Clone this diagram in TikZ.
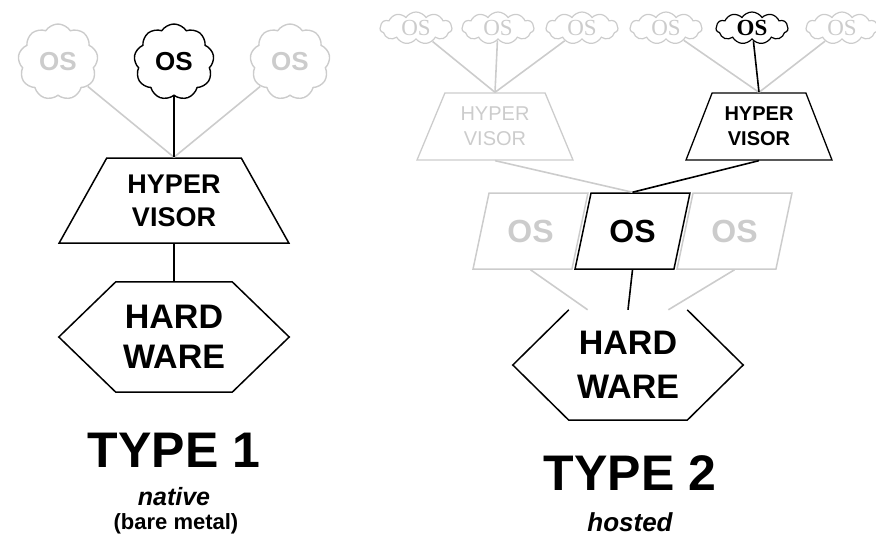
\documentclass[tikz,border=0pt]{standalone}
\usepackage{fontspec}
\setmainfont{Liberation Sans}
\newfontfamily\osserif{Liberation Serif}
\usepackage{tikz}
\usetikzlibrary{calc, shapes.geometric, shapes.symbols, positioning}

\begin{document}
\begin{tikzpicture}[x=1pt, y=-1pt,
    active/.style={draw=black, text=black},
    faded/.style={draw=black!20, text=black!20},
    edge/.style={line width=1.6pt},
    bigcloud/.style={cloud, cloud puffs=9, cloud puff arc=115, aspect=1, minimum width=80pt, minimum height=76pt, inner sep=0pt, line width=1.4pt, font=\fontsize{26}{28}\selectfont\bfseries},
    smallcloud/.style={cloud, cloud puffs=11, cloud puff arc=115, aspect=2.3, minimum width=72pt, minimum height=32pt, inner sep=0pt, line width=1.2pt, font=\fontsize{23}{25}\selectfont\osserif},
    hyper/.style={trapezium, trapezium stretches=true, trapezium angle=57.6, minimum width=230pt, minimum height=85pt, inner sep=0pt, line width=1.5pt, align=center, font=\fontsize{27}{33}\selectfont\bfseries},
    smallhyper/.style={trapezium, trapezium stretches=true, trapezium angle=63.8, minimum height=67pt, inner sep=0pt, line width=1.3pt, align=center, font=\fontsize{20}{25}\selectfont},
    osbox/.style={trapezium, trapezium stretches=true, trapezium left angle=68.5, trapezium right angle=111.5, minimum width=115pt, minimum height=76pt, inner sep=0pt, line width=1.5pt, font=\fontsize{32}{34}\selectfont\bfseries},
    hwbox/.style={minimum width=230pt, minimum height=110pt, inner sep=0pt, align=center},
    title/.style={font=\fontsize{50}{52}\selectfont\bfseries},
    note/.style={inner sep=0pt}
  ]
  \useasboundingbox (0,0) rectangle (876,536);

  % Type 1
  \node[bigcloud, faded] (os1a) at (58,62) {OS};
  \node[bigcloud, active] (os1b) at (174,62) {OS};
  \node[bigcloud, faded] (os1c) at (290,62) {OS};
  \node[hyper, active] (hyp1) at (174,200.5) {HYPER\\VISOR};
  \node[hwbox, font=\fontsize{34}{40}\selectfont\bfseries] (hw1) at (174,337) {HARD\\WARE};
  \draw[line width=1.5pt] ($(hw1.north west)+(57,0)$) -- ($(hw1.north east)+(-57,0)$) -- (hw1.east)
    -- ($(hw1.south east)+(-57,0)$) -- ($(hw1.south west)+(57,0)$) -- (hw1.west) -- cycle;
  \draw[edge, black!20] (os1a) -- (hyp1.north);
  \draw[edge, black!20] (os1c) -- (hyp1.north);
  \draw[edge] (os1b) -- (hyp1.north);
  \draw[edge] (hyp1) -- (hw1);
  \node[title] (type1) at (174,450) {TYPE 1};
  \node[note, font=\fontsize{25}{27}\selectfont\bfseries\itshape] (native) at (174,497) {native};
  \node[note, font=\fontsize{22}{24}\selectfont\bfseries] (bare) at (176,524) {(bare metal)};

  % Type 2
  \foreach \i/\x in {1/416, 2/498, 3/582, 4/666, 6/842}
    \node[smallcloud, faded] (ost\i) at (\x,28) {OS};
  \node[smallcloud, active, font=\fontsize{23}{25}\selectfont\osserif\bfseries] (ost5) at (752,28) {OS};
  \node[smallhyper, faded, minimum width=156pt] (hyp2a) at (495,126.5) {HYPER\\VISOR};
  \node[smallhyper, active, minimum width=146pt, font=\fontsize{20}{25}\selectfont\bfseries] (hyp2b) at (759,126.5) {HYPER\\VISOR};
  \foreach \n/\x in {l/530.5, r/734.5}
    \node[osbox, faded] (os2\n) at (\x,231) {OS};
  \node[osbox, active] (os2m) at (632.5,231) {OS};
  \node[hwbox, font=\fontsize{34}{44}\selectfont\bfseries] (hw2) at (628,365) {HARD\\WARE};
  \draw[line width=1.5pt] ($(hw2.north east)+(-56,0)$) -- (hw2.east)
    -- ($(hw2.south east)+(-56,0)$) -- ($(hw2.south west)+(56,0)$) -- (hw2.west) -- ($(hw2.north west)+(56,0)$);
  \foreach \i in {1,2,3}
    \draw[edge, black!20] (ost\i) -- (hyp2a.north);
  \foreach \i in {4,6}
    \draw[edge, black!20] (ost\i) -- (hyp2b.north);
  \draw[edge] (ost5) -- (hyp2b.north);
  \draw[edge, black!20] (hyp2a.south) -- (os2m.north);
  \draw[edge] (hyp2b.south) -- (os2m.north);
  \draw[edge, black!20] (os2l.south) -- ($(hw2.north)!0.35!(hw2.north west)$);
  \draw[edge, black!20] (os2r.south) -- ($(hw2.north)!0.35!(hw2.north east)$);
  \draw[edge] (os2m.south) -- (hw2.north);
  \node[title] (type2) at (630,473) {TYPE 2};
  \node[note, font=\fontsize{26}{28}\selectfont\bfseries\itshape] (hosted) at (630,522) {hosted};
\end{tikzpicture}
\end{document}
